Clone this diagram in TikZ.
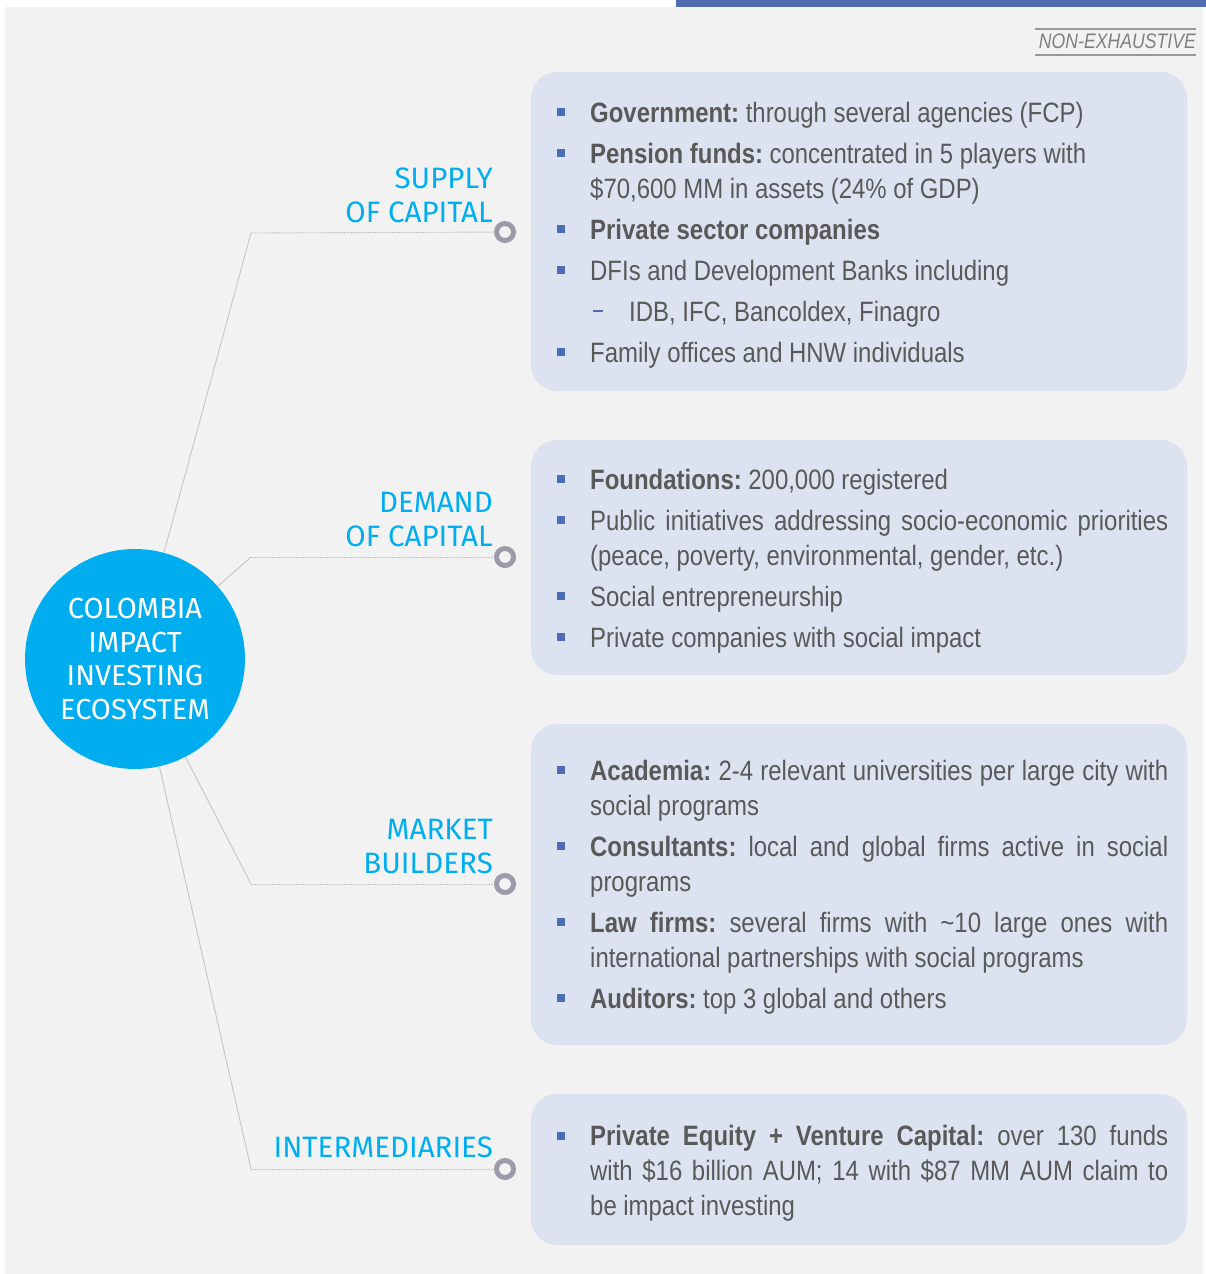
\documentclass[tikz,border=0pt]{standalone}
\usepackage{fontspec}
\setmainfont{Liberation Sans}[FakeStretch=0.855]
\newfontfamily\dinfont{Fira Sans}
\newfontfamily\nefont{Liberation Sans}[FakeStretch=0.84]
\definecolor{bggray}{HTML}{F2F2F2}
\definecolor{barblue}{HTML}{4F6CB0}
\definecolor{boxfill}{HTML}{DCE2F0}
\definecolor{txtgray}{HTML}{595959}
\definecolor{lblue}{HTML}{00AEEF}
\definecolor{ringgray}{HTML}{9B9BAA}
\definecolor{lineg}{HTML}{C4C4C4}
\definecolor{bulblue}{HTML}{4A6DB5}
\newcommand{\bulsq}{\textcolor{bulblue}{\rule[6pt]{8pt}{8pt}}}
\newcommand{\itm}[1]{\par\hangindent=33pt\hangafter=1\noindent\makebox[33pt][l]{\bulsq}#1\par}
\newcommand{\subitm}[1]{\par\noindent\hspace{36pt}\makebox[36pt][l]{\textcolor{bulblue}{\rule[9pt]{10pt}{2pt}}}#1\par}
\newcommand{\boxtext}[1]{\begin{minipage}[t]{611pt}\fontsize{28}{35}\selectfont
  \setlength{\parskip}{6pt}\frenchspacing\spaceskip=6.6pt plus 8pt minus 2.4pt
  \rightskip=0pt\parfillskip=0pt plus 1fil\tolerance=10000\hyphenpenalty=10000\exhyphenpenalty=10000
  #1\end{minipage}}
\tikzset{
  box/.style={fill=boxfill, rounded corners=26pt, inner sep=0pt},
  txt/.style={anchor=north west, inner sep=0pt, text=txtgray},
  lbl/.style={anchor=east, inner sep=0pt, align=right, text=lblue, font=\dinfont\fontsize{29.5}{34}\selectfont},
  ring/.style={circle, draw=ringgray, line width=5pt, fill=bggray, minimum size=17pt, inner sep=0pt},
  conn/.style={draw=lineg, line width=0.9pt},
  connh/.style={draw=lineg, line width=0.9pt, dash pattern=on 2pt off 1pt},
}
\begin{document}
\begin{tikzpicture}[x=1pt,y=-1pt]
\useasboundingbox (0,0) rectangle (1206,1274);
\fill[white] (0,0) rectangle (1206,1274);
\fill[bggray] (5,7) rectangle (1203,1274);
\fill[barblue] (676,0) rectangle (1206,7);
% non-exhaustive
\node[anchor=east, inner sep=0pt, text=black!50, font=\nefont\itshape\fontsize{21}{24}\selectfont] (ne) at (1196,41) {NON-EXHAUSTIVE};
\draw[black!40, line width=1.4pt] (ne.west |- 0,29) ++(-4,0) -- (1196,29);
\draw[black!40, line width=1.4pt] (ne.west |- 0,55) ++(-4,0) -- (1196,55);
% boxes
\node[box, minimum width=656pt, minimum height=319pt] (box1) at (859,231.5) {};
\node[box, minimum width=656pt, minimum height=235pt] (box2) at (859,557.5) {};
\node[box, minimum width=656pt, minimum height=321pt] (box3) at (859,884.5) {};
\node[box, minimum width=656pt, minimum height=151pt] (box4) at (859,1169.5) {};
% texts
\node[txt] (t1) at (557,102) {\boxtext{%
\itm{\textbf{Government:} through several agencies (FCP)}
\itm{\textbf{Pension funds:} concentrated in 5 players with\newline \$70,600 MM in assets (24\% of GDP)}
\itm{\textbf{Private sector companies}}
\itm{DFIs and Development Banks including}
\subitm{IDB, IFC, Bancoldex, Finagro}
\itm{Family offices and HNW individuals}}};
\node[txt] (t2) at (557,469) {\boxtext{%
\itm{\textbf{Foundations:} 200,000 registered}
\itm{Public initiatives addressing socio-economic priorities\linebreak (peace, poverty, environmental, gender, etc.)}
\itm{Social entrepreneurship}
\itm{Private companies with social impact}}};
\node[txt] (t3) at (557,760) {\boxtext{%
\itm{\textbf{Academia:} 2-4 relevant universities per large city with\linebreak social programs}
\itm{\textbf{Consultants:} local and global firms active in social\linebreak programs}
\itm{\textbf{Law firms:} several firms with \textasciitilde10 large ones with\linebreak international partnerships with social programs}
\itm{\textbf{Auditors:} top 3 global and others}}};
\node[txt] (t4) at (557,1125) {\boxtext{%
\itm{\textbf{Private Equity + Venture Capital:} over 130 funds\linebreak with \$16 billion AUM; 14 with \$87 MM AUM claim to\linebreak be impact investing}}};
% central circle
\node[circle, fill=lblue, minimum size=220pt, inner sep=0pt, align=center, text=white,
  font=\dinfont\fontsize{29}{33.7}\selectfont] (eco) at (135,659) {COLOMBIA\\IMPACT\\INVESTING\\ECOSYSTEM};
% labels
\node[lbl] (l1) at (493,195) {SUPPLY\\OF CAPITAL};
\node[lbl] (l2) at (493,520) {DEMAND\\OF CAPITAL};
\node[lbl] (l3) at (493,847) {MARKET\\BUILDERS};
\node[lbl] (l4) at (493,1147) {INTERMEDIARIES};
% markers
\node[ring] (m1) at (505,232) {};
\node[ring] (m2) at (505,557) {};
\node[ring] (m3) at (505,884) {};
\node[ring] (m4) at (505,1169) {};
% bends
\coordinate (b1) at (251,233);
\coordinate (b2) at (251,557);
\coordinate (b3) at (251,884);
\coordinate (b4) at (251,1169);
\draw[conn] (eco) -- (b1); \draw[connh] (b1) -- (m1);
\draw[conn] (eco) -- (b2); \draw[connh] (b2) -- (m2);
\draw[conn] (eco) -- (b3); \draw[connh] (b3) -- (m3);
\draw[conn] (eco) -- (b4); \draw[connh] (b4) -- (m4);
\end{tikzpicture}
\end{document}
